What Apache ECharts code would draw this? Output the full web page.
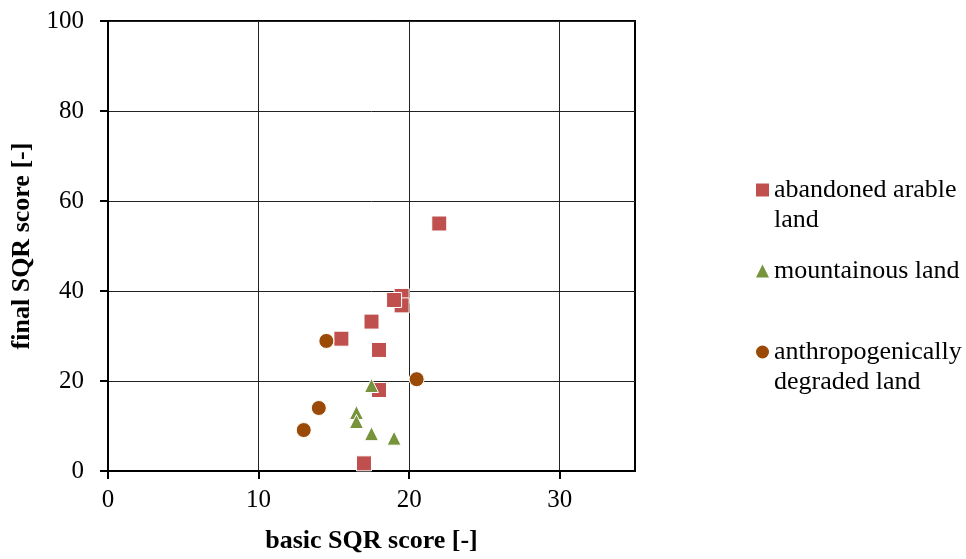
<!DOCTYPE html>
<html>
<head>
<meta charset="utf-8">
<script src="https://cdn.jsdelivr.net/npm/echarts@6/dist/echarts.min.js"></script>
<style>html,body{margin:0;padding:0;background:#fff}#c{width:966px;height:559px}</style>
</head>
<body>
<div id="c"></div>
<script>
var seriesNames = ['abandoned arable land', 'mountainous land', 'anthropogenically degraded land'];
var abandonedArable = [[22.0, 55.0], [19.5, 38.9], [19.5, 36.8], [19.0, 38.0], [17.5, 33.2], [15.5, 29.4], [18.0, 26.9], [18.0, 18.0], [17.0, 1.7]];
var mountainous = [[17.5, 19.0], [16.5, 13.0], [16.5, 11.0], [17.5, 8.3], [19.0, 7.3]];
var degraded = [[14.5, 28.9], [20.5, 20.4], [14.0, 14.0], [13.0, 9.1]];
var xTicks = [0, 10, 20, 30];
var yTicks = [0, 20, 40, 60, 80, 100];

var font = '"Liberation Serif", "Times New Roman", serif';
var chart = echarts.init(document.getElementById('c'), null, {renderer: 'canvas'});
chart.setOption({
  animation: false,
  backgroundColor: '#fff',
  grid: {left: 108, right: 331, top: 21, bottom: 87, show: true, borderColor: '#000', borderWidth: 2, containLabel: false},
  xAxis: {
    type: 'value', min: 0, max: 35, interval: 10,
    name: 'basic SQR score [-]', nameLocation: 'middle', nameGap: 57,
    nameTextStyle: {fontFamily: font, fontWeight: 'bold', fontSize: 26, color: '#000'},
    axisLine: {show: true, lineStyle: {color: '#000', width: 2}},
    axisTick: {show: true, length: 8, lineStyle: {color: '#000', width: 2}, customValues: xTicks},
    axisLabel: {fontFamily: font, fontSize: 25, color: '#000', margin: 17, customValues: xTicks},
    splitLine: {show: true, lineStyle: {color: '#222', width: 1}}
  },
  yAxis: {
    type: 'value', min: 0, max: 100, interval: 20,
    name: 'final SQR score [-]', nameLocation: 'middle', nameGap: 68,
    nameTextStyle: {fontFamily: font, fontWeight: 'bold', fontSize: 26, color: '#000'},
    axisLine: {show: true, lineStyle: {color: '#000', width: 2}},
    axisTick: {show: true, length: 8, lineStyle: {color: '#000', width: 2}, customValues: yTicks},
    axisLabel: {fontFamily: font, fontSize: 25, color: '#000', margin: 24, customValues: yTicks},
    splitLine: {show: true, lineStyle: {color: '#222', width: 1}}
  },
  legend: {
    orient: 'vertical', left: 751, top: 140, itemWidth: 13, itemHeight: 13, itemGap: 21,
    textStyle: {fontFamily: font, fontSize: 26, color: '#000', lineHeight: 30},
    itemStyle: {borderWidth: 0},
    formatter: function (n) {
      if (n === seriesNames[0]) return '\nabandoned arable\nland';
      if (n === seriesNames[2]) return '\nanthropogenically\ndegraded land';
      return n;
    },
    data: [
      {name: seriesNames[0], icon: 'rect'},
      {name: seriesNames[1], icon: 'triangle', itemStyle: {borderWidth: 0}},
      {name: seriesNames[2], icon: 'circle'}
    ]
  },
  series: [
    {name: seriesNames[0], type: 'scatter', data: abandonedArable, symbol: 'rect', symbolSize: 15,
     itemStyle: {color: '#C0504D', borderColor: '#fff', borderWidth: 1, opacity: 1}},
    {name: seriesNames[1], type: 'scatter', data: mountainous, symbol: 'triangle', symbolSize: 14,
     itemStyle: {color: '#77933C', borderColor: '#fff', borderWidth: 1, opacity: 1}},
    {name: seriesNames[2], type: 'scatter', data: degraded, symbol: 'circle', symbolSize: 15,
     itemStyle: {color: '#9A4A06', borderColor: '#fff', borderWidth: 1, opacity: 1}}
  ]
});
</script>
</body>
</html>
